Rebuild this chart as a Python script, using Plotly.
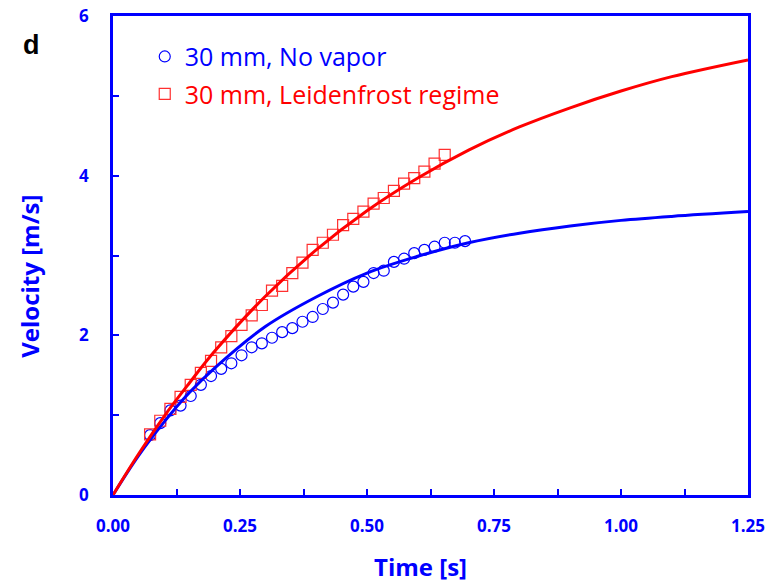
import plotly.graph_objects as go

t_novapor = [0.073, 0.093, 0.113, 0.133, 0.153, 0.173, 0.193, 0.213, 0.233, 0.253,
             0.273, 0.293, 0.313, 0.333, 0.353, 0.373, 0.393, 0.413, 0.433, 0.453,
             0.473, 0.493, 0.513, 0.533, 0.553, 0.573, 0.593, 0.613, 0.633, 0.653,
             0.673, 0.693]
v_novapor = [0.75, 0.90, 1.06, 1.12, 1.24, 1.38, 1.49, 1.58, 1.65, 1.75,
             1.85, 1.90, 1.97, 2.04, 2.09, 2.17, 2.23, 2.33, 2.41, 2.51,
             2.61, 2.67, 2.78, 2.81, 2.92, 2.96, 3.03, 3.07, 3.11, 3.16,
             3.16, 3.18]

t_leiden = [0.073, 0.093, 0.113, 0.133, 0.153, 0.173, 0.193, 0.213, 0.233, 0.253,
            0.273, 0.293, 0.313, 0.333, 0.353, 0.373, 0.393, 0.413, 0.433, 0.453,
            0.473, 0.493, 0.513, 0.533, 0.553, 0.573, 0.593, 0.613, 0.633, 0.653]
v_leiden = [0.76, 0.93, 1.08, 1.23, 1.38, 1.53, 1.68, 1.85, 1.99, 2.13,
            2.25, 2.38, 2.56, 2.62, 2.78, 2.91, 3.07, 3.16, 3.26, 3.38,
            3.46, 3.55, 3.65, 3.72, 3.81, 3.90, 3.97, 4.05, 4.15, 4.26]

# Fitted curves
t_fit = [0.0, 0.05, 0.1, 0.15, 0.2, 0.3, 0.4, 0.5, 0.6, 0.7, 0.8, 0.9, 1.0, 1.1, 1.25]
v_fit_novapor = [0.0, 0.49, 0.91, 1.28, 1.59, 2.11, 2.48, 2.78, 2.99, 3.16, 3.28, 3.37, 3.44, 3.49, 3.55]
v_fit_leiden = [0.0, 0.51, 0.98, 1.40, 1.80, 2.49, 3.07, 3.56, 3.97, 4.32, 4.61, 4.85, 5.06, 5.24, 5.45]

x_ticks = [0.0, 0.25, 0.5, 0.75, 1.0, 1.25]
x_ticklabels = ["0.00", "0.25", "0.50", "0.75", "1.00", "1.25"]
y_ticks = [0, 2, 4, 6]
y_ticklabels = ["0", "2", "4", "6"]

BLUE = "#0000FF"
RED = "#FF0000"

fig = go.Figure()

fig.add_trace(go.Scatter(
    x=t_novapor, y=v_novapor, mode="markers",
    marker=dict(symbol="circle-open", size=11, color=BLUE, line=dict(width=1.2, color=BLUE)),
    name="<span style='color:#0000FF'>30 mm, No vapor</span>", legendgroup="a"))
fig.add_trace(go.Scatter(
    x=t_leiden, y=v_leiden, mode="markers",
    marker=dict(symbol="square-open", size=11, color="#FF3030", line=dict(width=1.2, color="#FF3030")),
    name="<span style='color:#FF0000'>30 mm, Leidenfrost regime</span>", legendgroup="b"))
fig.add_trace(go.Scatter(
    x=t_fit, y=v_fit_novapor, mode="lines", line=dict(color=BLUE, width=3, shape="spline"),
    showlegend=False, hoverinfo="skip"))
fig.add_trace(go.Scatter(
    x=t_fit, y=v_fit_leiden, mode="lines", line=dict(color=RED, width=3, shape="spline"),
    showlegend=False, hoverinfo="skip"))

axis_common = dict(
    showline=True, linecolor=BLUE, linewidth=2.5, mirror=True,
    ticks="inside", tickcolor=BLUE, tickwidth=2, ticklen=6,
    showgrid=False, zeroline=False, automargin=False,
    tickfont=dict(family="Open Sans", size=17, color=BLUE, weight="bold"),
)

fig.update_xaxes(
    range=[0, 1.25], tickvals=x_ticks, ticktext=x_ticklabels,
    minor=dict(dtick=0.125, ticks="inside", ticklen=6, tickwidth=2, tickcolor=BLUE, tick0=0),
    ticklabelstandoff=14, **axis_common)
fig.update_yaxes(
    range=[0, 6], tickvals=y_ticks, ticktext=y_ticklabels,
    minor=dict(dtick=1, ticks="inside", ticklen=6, tickwidth=2, tickcolor=BLUE, tick0=0),
    ticklabelstandoff=18, **axis_common)

fig.add_annotation(text="<b>Time [s]</b>", xref="paper", yref="paper", x=0.484, y=-0.150,
                   showarrow=False, font=dict(family="Open Sans", size=24, color=BLUE),
                   xanchor="center", yanchor="middle")
fig.add_annotation(text="<b>Velocity [m/s]</b>", xref="paper", yref="paper", x=-0.132, y=0.456,
                   showarrow=False, textangle=-90, font=dict(family="Open Sans", size=24, color=BLUE),
                   xanchor="center", yanchor="middle")
fig.add_annotation(text="<b>d</b>", xref="paper", yref="paper", x=-0.129, y=0.939,
                   showarrow=False, font=dict(family="Liberation Sans", size=27, color="black"),
                   xanchor="center", yanchor="middle")

fig.update_layout(
    width=773, height=587,
    margin=dict(l=113, r=25, t=16, b=92, autoexpand=False),
    paper_bgcolor="white", plot_bgcolor="white",
    legend=dict(x=0.05, y=0.963, xanchor="left", yanchor="top",
                font=dict(family="Open Sans", size=25), bgcolor="rgba(0,0,0,0)",
                traceorder="grouped", tracegroupgap=2),
)

fig.write_html("out.html")
